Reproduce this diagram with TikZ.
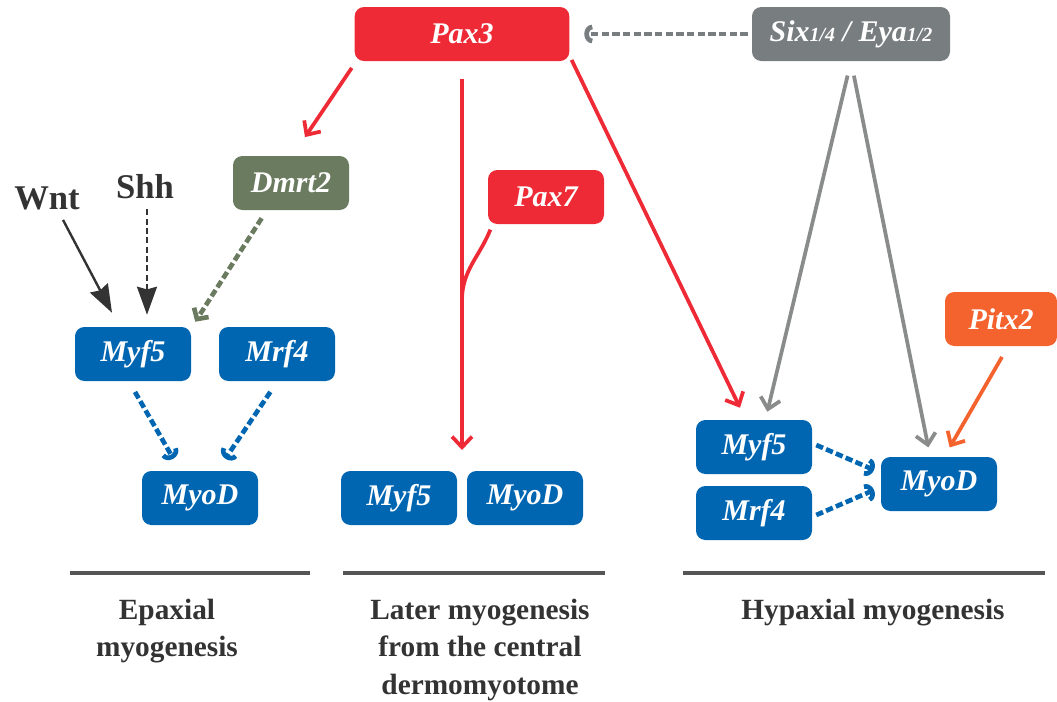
\documentclass[tikz,border=0pt]{standalone}
\usepackage{fontspec}
\setmainfont{Liberation Serif}
\usepackage{xcolor}
\usetikzlibrary{positioning,arrows.meta}
\definecolor{paxred}{HTML}{EE2A36}
\definecolor{sixgrey}{HTML}{787E7F}
\definecolor{arrgrey}{HTML}{8A8B8B}
\definecolor{dmrtgreen}{HTML}{6B7B5F}
\definecolor{myoblue}{HTML}{0066B1}
\definecolor{pitxorange}{HTML}{F4622D}
\definecolor{inkgrey}{HTML}{333333}
\definecolor{rulegrey}{HTML}{555555}
\begin{document}
\begin{tikzpicture}[
        x=0.75pt, y=-0.75pt,
        gene/.style={rectangle, rounded corners=7pt, inner sep=0pt, minimum width=87pt, minimum height=40.5pt,
            text=white, font=\fontsize{22.5}{24}\selectfont\bfseries\itshape},
        signal/.style={inner sep=0pt, text=inkgrey, font=\fontsize{26}{28}\selectfont\bfseries},
        caption/.style={inner sep=0pt, anchor=north, align=center, text=inkgrey, font=\fontsize{22}{28}\selectfont\bfseries},
        paxarrow/.style={draw=paxred, line width=2.8pt, -{Straight Barb[length=8pt,width=15pt]}},
        sixarrow/.style={draw=arrgrey, line width=2.8pt, -{Straight Barb[length=8pt,width=15pt]}},
        pitxarrow/.style={draw=pitxorange, line width=2.8pt, -{Straight Barb[length=8pt,width=15pt]}},
        dashflow/.style={line width=3.5pt, dash pattern=on 5.5pt off 2.5pt, -{Arc Barb[length=6pt,width=14pt]}},
        sigarrow/.style={draw=inkgrey, line width=1.8pt, -{Stealth[length=21pt,width=15pt,inset=2pt]}},
        rule/.style={draw=rulegrey, line width=3pt}
    ]
    \useasboundingbox (0,0) rectangle (1057,701);

    % Nœuds
    \node[gene, fill=paxred, minimum width=161pt] (pax3) at (462,34) {Pax3};
    \node[gene, fill=sixgrey, minimum width=148.5pt] (six) at (851,34)
        {Six{\fontsize{15}{16}\selectfont 1/4} / Eya{\fontsize{15}{16}\selectfont 1/2}};
    \node[gene, fill=dmrtgreen] (dmrt) at (291,183) {Dmrt2};
    \node[gene, fill=paxred] (pax7) at (546,197) {Pax7};
    \node[gene, fill=pitxorange, minimum width=84pt] (pitx) at (1001,319) {Pitx2};
    \node[signal] (wnt) at (47,198) {Wnt};
    \node[signal] (shh) at (145,187) {Shh};

    \node[gene, fill=myoblue] (emyf) at (133,354) {Myf5};
    \node[gene, fill=myoblue] (emrf) at (277,354) {Mrf4};
    \node[gene, fill=myoblue] (emyod) at (200,498) {MyoD};
    \node[gene, fill=myoblue] (cmyf) at (399,498) {Myf5};
    \node[gene, fill=myoblue] (cmyod) at (525,498) {MyoD};
    \node[gene, fill=myoblue] (hmyf) at (754,447) {Myf5};
    \node[gene, fill=myoblue] (hmrf) at (754,513) {Mrf4};
    \node[gene, fill=myoblue] (hmyod) at (939,484) {MyoD};

    \coordinate (cjoin) at (462,300);
    \coordinate (ctip) at (462,450);

    % Flèches
    \draw[dashflow, draw=sixgrey, shorten <=3pt, shorten >=11pt] (six.west) -- (pax3.east);
    \draw[paxarrow] ([xshift=-2pt,yshift=-5pt]pax3.south west) -- ([xshift=10.5pt,yshift=14pt]dmrt.north);
    \draw[paxarrow, shorten <=13.5pt] (pax3.south) -- (cjoin) -- (ctip);
    \draw[draw=paxred, line width=2.8pt] ([xshift=2pt,yshift=-4pt]pax7.south west) to[out=-112,in=90] (cjoin);
    \draw[paxarrow] ([xshift=1.5pt,yshift=1pt]pax3.south east) -- ([xshift=-10.5pt,yshift=9pt]hmyf.north);
    \draw[sixarrow, shorten <=11pt] (six.south) -- ([xshift=10pt,yshift=6pt]hmyf.north);
    \draw[sixarrow, shorten <=11pt] (six.south) -- ([xshift=-8pt,yshift=7pt]hmyod.north);
    \draw[pitxarrow] ([xshift=0.75pt,yshift=-8pt]pitx.south) -- ([xshift=8pt,yshift=7pt]hmyod.north);

    \draw[sigarrow] ([xshift=12pt,yshift=-7.5pt]wnt.south) -- ([xshift=-15.75pt,yshift=10.5pt]emyf.north);
    \draw[sigarrow, dash pattern=on 4.5pt off 2.5pt] ([xshift=1.5pt,yshift=-7.5pt]shh.south) -- ([xshift=10.5pt,yshift=9pt]emyf.north);
    \draw[dashflow, draw=dmrtgreen, -{Straight Barb[length=6pt,width=13pt]}] ([xshift=-22pt,yshift=-6pt]dmrt.south) -- ([xshift=3pt,yshift=3.75pt]emyf.north east);

    \draw[dashflow, draw=myoblue] ([xshift=1.5pt,yshift=-8pt]emyf.south) -- ([xshift=-20pt,yshift=9pt]emyod.north);
    \draw[dashflow, draw=myoblue] ([xshift=-5pt,yshift=-8pt]emrf.south) -- ([xshift=19pt,yshift=9pt]emyod.north);
    \draw[dashflow, draw=myoblue] ([xshift=3pt,yshift=1.5pt]hmyf.east) -- ([xshift=-5pt,yshift=10.5pt]hmyod.west);
    \draw[dashflow, draw=myoblue] ([xshift=3pt,yshift=-1.5pt]hmrf.east) -- ([xshift=-5pt,yshift=-4.5pt]hmyod.west);

    % Légendes
    \draw[rule] (70,573) -- (310,573);
    \draw[rule] (343,573) -- (605,573);
    \draw[rule] (683,573) -- (1045,573);
    \node[caption] (epax) at (167,599) {Epaxial\\myogenesis};
    \node[caption] (later) at (480,599) {Later myogenesis\\from the central\\dermomyotome};
    \node[caption] (hypax) at (873,599) {Hypaxial myogenesis};
\end{tikzpicture}
\end{document}
